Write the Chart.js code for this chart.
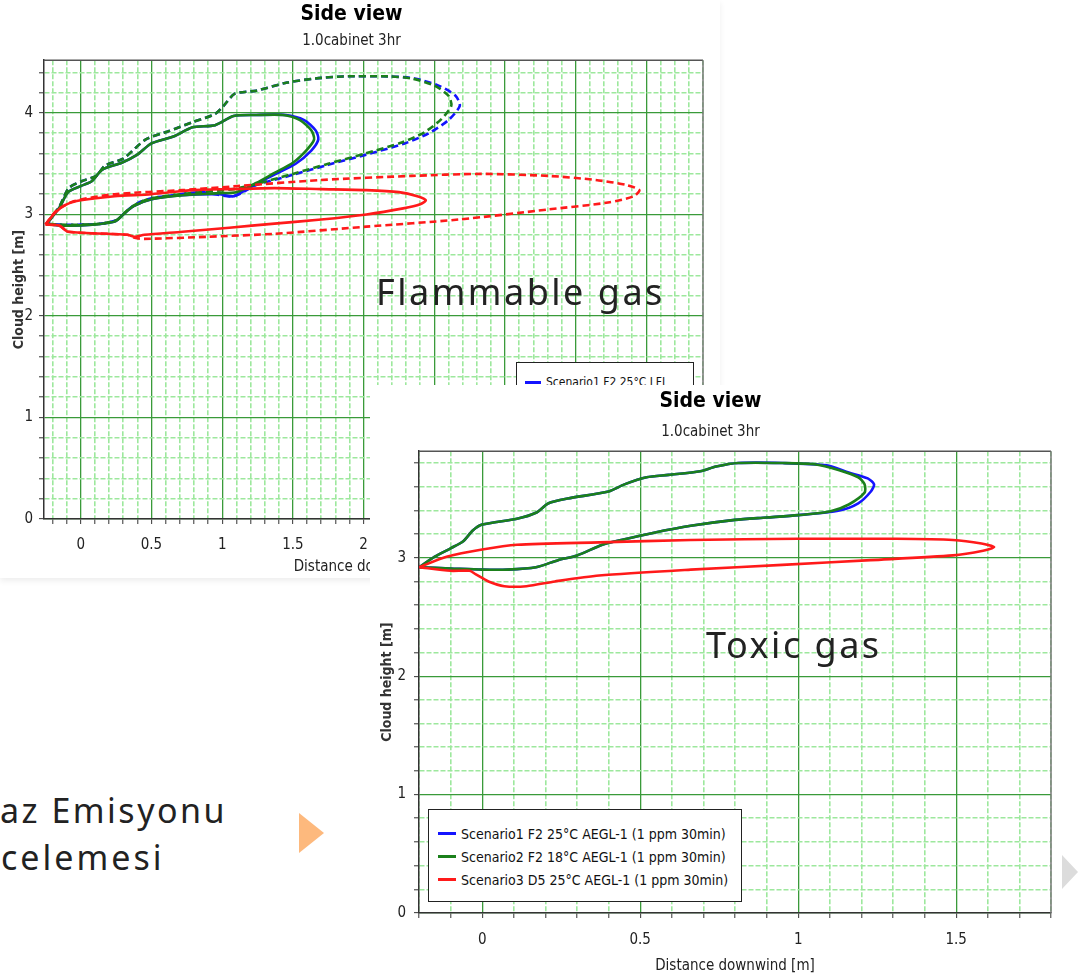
<!DOCTYPE html>
<html>
<head>
<meta charset="utf-8">
<script src="https://cdn.jsdelivr.net/npm/chart.js@4.4.1/dist/chart.umd.min.js"></script>
<style>
  body { margin: 0; width: 1084px; height: 980px; background: #fff; position: relative; overflow: hidden; }
  .card { position: absolute; background: #fff; }
  #card1 { left: 0; top: 0; width: 720px; height: 578px; box-shadow: 0 3px 6px rgba(0,0,0,0.07); }
  #card2 { left: 370px; top: 385px; width: 714px; height: 595px; }
  canvas { display: block; }
  .legend { position: absolute; box-sizing: border-box; background: #fff; border: 1px solid #222; color: #111;
            font-family: 'Liberation Sans Narrow', 'DejaVu Sans Condensed', sans-serif; overflow: hidden; }
  .legend .row { display: flex; align-items: center; white-space: nowrap; }
  .legend .sw { display: inline-block; flex-shrink: 0; height: 0; border-top: 3px solid; margin-right: 5px; }
  .big { position: absolute; color: #222; font-family: 'Noto Sans', sans-serif; font-weight: 400;
         letter-spacing: 2.5px; white-space: nowrap; line-height: 1; }
  .tri { position: absolute; width: 0; height: 0; border-style: solid; border-color: transparent; }
</style>
</head>
<body>

<div class="card" id="card1">
  <canvas id="flamChart" width="720" height="578"></canvas>
  <div class="legend" id="flamLegend" style="left:516px;top:362px;width:178px;height:150px;padding:9px 0 0 8px;font-size:12px;"></div>
</div>

<div class="big" style="left:376px;top:274px;font-size:36px;">Flammable gas</div>

<div class="big" style="left:0px;top:793px;font-size:34px;">az Emisyonu</div>
<div class="big" style="left:1px;top:840px;font-size:34px;letter-spacing:3px;">celemesi</div>
<div class="tri" style="left:299px;top:813px;border-width:20.5px 0 20.5px 25px;border-left-color:#fdb97d;"></div>

<div class="card" id="card2">
  <canvas id="toxChart" width="714" height="595"></canvas>
  <div class="legend" id="toxLegend" style="left:58px;top:424px;width:314px;height:93px;padding:12px 0 0 9px;font-size:14px;"></div>
</div>

<div class="big" style="left:706px;top:627px;font-size:36px;">Toxic gas</div>
<div class="tri" style="left:1062px;top:855px;border-width:17px 0 17px 16px;border-left-color:#dcdcdc;"></div>

<script>
// ---------------- flammable gas (LFL) contours ----------------
const flamS1X = [-0.24, -0.15, -0.09, 0.0, 0.08, 0.15, 0.29, 0.40, 0.50, 0.66, 0.79, 0.95, 1.08, 1.24, 1.45, 1.58, 1.66, 1.68, 1.63, 1.52, 1.38, 1.24, 1.08, 0.98, 0.72, 0.50, 0.37, 0.30, 0.24, 0.08, -0.09, -0.20, -0.24];
const flamS1Y = [2.91, 3.07, 3.22, 3.28, 3.33, 3.44, 3.51, 3.59, 3.70, 3.77, 3.86, 3.88, 3.97, 3.98, 3.98, 3.93, 3.83, 3.74, 3.63, 3.50, 3.40, 3.30, 3.18, 3.20, 3.19, 3.15, 3.08, 3.00, 2.93, 2.90, 2.89, 2.90, 2.91];
const flamS2X = [-0.24, -0.15, -0.09, 0.0, 0.08, 0.15, 0.29, 0.40, 0.50, 0.66, 0.79, 0.95, 1.08, 1.24, 1.43, 1.55, 1.63, 1.65, 1.60, 1.50, 1.37, 1.24, 1.10, 0.98, 0.72, 0.50, 0.37, 0.30, 0.24, 0.08, -0.09, -0.20, -0.24];
const flamS2Y = [2.91, 3.07, 3.22, 3.28, 3.33, 3.44, 3.51, 3.59, 3.70, 3.77, 3.86, 3.88, 3.97, 3.98, 3.98, 3.93, 3.83, 3.74, 3.64, 3.51, 3.41, 3.31, 3.22, 3.21, 3.19, 3.15, 3.08, 3.00, 2.93, 2.90, 2.89, 2.90, 2.91];
const flamS3X = [-0.25, -0.18, -0.10, 0.0, 0.24, 0.50, 0.79, 1.05, 1.37, 1.70, 2.02, 2.25, 2.38, 2.44, 2.40, 2.28, 2.02, 1.70, 1.37, 1.05, 0.72, 0.45, 0.38, 0.33, -0.09, -0.15, -0.25];
const flamS3Y = [2.90, 3.02, 3.10, 3.14, 3.18, 3.20, 3.24, 3.25, 3.26, 3.25, 3.24, 3.22, 3.18, 3.14, 3.10, 3.06, 3.00, 2.95, 2.91, 2.87, 2.83, 2.80, 2.78, 2.80, 2.83, 2.89, 2.90];

// dashed contours (LFL fraction)
const flamS1FracX = [-0.24, -0.15, -0.085, 0.01, 0.11, 0.17, 0.30, 0.46, 0.62, 0.79, 0.95, 1.01, 1.09, 1.24, 1.46, 1.66, 1.85, 2.18, 2.36, 2.53, 2.65, 2.68, 2.60, 2.46, 2.29, 2.02, 1.75, 1.50, 1.24, 1.08, 0.85, 0.65, 0.50, 0.40, 0.32, 0.26, 0.15, 0.0, -0.15, -0.24];
const flamS1FracY = [2.91, 3.08, 3.26, 3.33, 3.38, 3.48, 3.55, 3.74, 3.82, 3.91, 3.99, 4.07, 4.19, 4.22, 4.30, 4.34, 4.36, 4.36, 4.34, 4.27, 4.17, 4.07, 3.93, 3.80, 3.70, 3.59, 3.49, 3.39, 3.29, 3.18, 3.22, 3.19, 3.16, 3.11, 3.03, 2.95, 2.91, 2.90, 2.90, 2.91];
const flamS2FracX = [-0.24, -0.15, -0.085, 0.01, 0.11, 0.17, 0.30, 0.46, 0.62, 0.79, 0.95, 1.01, 1.09, 1.24, 1.46, 1.66, 1.85, 2.18, 2.34, 2.50, 2.60, 2.62, 2.55, 2.43, 2.27, 2.01, 1.75, 1.50, 1.24, 1.08, 0.85, 0.65, 0.50, 0.40, 0.32, 0.26, 0.15, 0.0, -0.15, -0.24];
const flamS2FracY = [2.91, 3.08, 3.26, 3.33, 3.38, 3.48, 3.55, 3.74, 3.82, 3.91, 3.99, 4.07, 4.19, 4.22, 4.30, 4.34, 4.36, 4.36, 4.34, 4.27, 4.17, 4.07, 3.94, 3.81, 3.71, 3.60, 3.50, 3.40, 3.30, 3.25, 3.22, 3.19, 3.16, 3.11, 3.03, 2.95, 2.91, 2.90, 2.90, 2.91];
const flamS3FracX = [-0.25, -0.17, -0.05, 0.24, 0.72, 1.11, 1.70, 2.34, 2.83, 3.31, 3.64, 3.86, 3.95, 3.91, 3.74, 3.31, 2.67, 2.02, 1.37, 0.89, 0.45, 0.38, 0.33, -0.09, -0.15, -0.25];
const flamS3FracY = [2.90, 3.04, 3.13, 3.20, 3.24, 3.28, 3.34, 3.38, 3.40, 3.38, 3.34, 3.29, 3.24, 3.18, 3.12, 3.05, 2.95, 2.88, 2.81, 2.78, 2.76, 2.77, 2.80, 2.83, 2.89, 2.90];

// ---------------- toxic gas (AEGL-1) contours ----------------
const toxS1X = [-0.20, -0.15, -0.10, -0.06, -0.03, 0.0, 0.11, 0.17, 0.21, 0.27, 0.40, 0.45, 0.52, 0.59, 0.69, 0.74, 0.81, 0.95, 1.09, 1.16, 1.22, 1.24, 1.23, 1.19, 1.13, 1.00, 0.90, 0.80, 0.66, 0.54, 0.44, 0.38, 0.30, 0.24, 0.17, 0.08, 0.0, -0.10, -0.20];
const toxS1Y = [2.92, 3.01, 3.08, 3.14, 3.23, 3.28, 3.33, 3.38, 3.46, 3.50, 3.56, 3.62, 3.68, 3.70, 3.73, 3.77, 3.80, 3.80, 3.78, 3.72, 3.67, 3.62, 3.56, 3.46, 3.40, 3.36, 3.34, 3.32, 3.27, 3.21, 3.15, 3.11, 3.02, 2.98, 2.92, 2.90, 2.90, 2.91, 2.92];
const toxS2X = [-0.20, -0.15, -0.10, -0.06, -0.03, 0.0, 0.11, 0.17, 0.21, 0.27, 0.40, 0.45, 0.52, 0.59, 0.69, 0.74, 0.81, 0.95, 1.05, 1.13, 1.19, 1.21, 1.21, 1.16, 1.10, 1.00, 0.90, 0.80, 0.66, 0.54, 0.44, 0.38, 0.30, 0.24, 0.17, 0.08, 0.0, -0.10, -0.20];
const toxS2Y = [2.92, 3.01, 3.08, 3.14, 3.23, 3.28, 3.33, 3.38, 3.46, 3.50, 3.56, 3.62, 3.68, 3.70, 3.73, 3.77, 3.80, 3.80, 3.79, 3.74, 3.68, 3.62, 3.55, 3.45, 3.39, 3.36, 3.34, 3.32, 3.27, 3.21, 3.15, 3.11, 3.02, 2.98, 2.92, 2.90, 2.90, 2.91, 2.92];
const toxS3X = [-0.20, -0.11, 0.0, 0.11, 0.37, 0.66, 1.00, 1.31, 1.49, 1.58, 1.62, 1.585, 1.49, 1.23, 0.95, 0.66, 0.37, 0.23, 0.14, 0.07, 0.02, -0.02, -0.04, -0.10, -0.20];
const toxS3Y = [2.92, 3.01, 3.07, 3.11, 3.13, 3.15, 3.16, 3.16, 3.15, 3.12, 3.09, 3.06, 3.02, 2.98, 2.94, 2.90, 2.85, 2.80, 2.76, 2.76, 2.80, 2.86, 2.89, 2.89, 2.92];

const flamLabels = ["Scenario1 F2 25°C LFL", "Scenario2 F2 18°C LFL", "Scenario3 D5 25°C LFL",
                    "Scenario1 F2 25°C LFL Frac", "Scenario2 F2 18°C LFL Frac", "Scenario3 D5 25°C LFL Frac"];
const toxLabels = ["Scenario1 F2 25°C AEGL-1 (1 ppm 30min)", "Scenario2 F2 18°C AEGL-1 (1 ppm 30min)", "Scenario3 D5 25°C AEGL-1 (1 ppm 30min)"];

const BLUE = "#1414ff";
const GREEN = "#1b801b";
const RED = "#ff1a1a";
const MAJOR = "#3a9a3a";
const MINOR = "#9de89d";
const NARROW = "'Liberation Sans Narrow', 'DejaVu Sans Condensed', 'Arial Narrow', sans-serif";

const toPoints = (xs, ys) => xs.map((x, i) => ({ x: x, y: ys[i] }));
const onStep = (v, step) => Math.abs(v / step - Math.round(v / step)) < 1e-6;

function contour(label, xs, ys, color, dashed, order) {
  return {
    label: label,
    data: toPoints(xs, ys),
    showLine: true,
    borderColor: color,
    backgroundColor: color,
    borderWidth: 2.6,
    borderDash: dashed ? [7, 4] : [],
    pointRadius: 0,
    tension: 0.25,
    fill: false,
    order: order,
  };
}

// draws the top and right edges of the plot frame
const framePlugin = {
  id: "frame",
  afterDraw(chart) {
    const { ctx, chartArea: a } = chart;
    ctx.save();
    ctx.lineWidth = 1.5;
    ctx.strokeStyle = "#555";
    ctx.beginPath();
    ctx.moveTo(a.left, a.top);
    ctx.lineTo(a.right, a.top);
    ctx.stroke();
    ctx.strokeStyle = "#777";
    ctx.beginPath();
    ctx.moveTo(a.right, a.top);
    ctx.lineTo(a.right, a.bottom);
    ctx.stroke();
    ctx.restore();
  },
};

function makeOptions(cfg) {
  return {
    responsive: false,
    animation: false,
    layout: { padding: { left: 0, right: cfg.padRight, top: 0, bottom: 0 } },
    plugins: {
      legend: { display: false },
      tooltip: { enabled: false },
      title: {
        display: true,
        text: "Side view",
        color: "#000",
        font: { family: NARROW, size: 21, weight: "bold" },
        padding: cfg.titlePad,
      },
      subtitle: {
        display: true,
        text: "1.0cabinet 3hr",
        color: "#222",
        font: { family: NARROW, size: 15 },
        padding: cfg.subPad,
      },
    },
    scales: {
      x: {
        type: "linear",
        min: cfg.xMin,
        max: cfg.xMax,
        afterFit: (s) => { s.height = cfg.xAxisHeight; },
        ticks: {
          stepSize: 0.1,
          autoSkip: false,
          includeBounds: false,
          maxRotation: 0,
          padding: cfg.xTickPad,
          color: "#222",
          font: { family: NARROW, size: 15 },
          callback: (v) => (onStep(v, 0.5) ? String(Math.round(v * 10) / 10) : ""),
        },
        grid: {
          color: (c) => (c.tick && onStep(c.tick.value, 0.5) ? MAJOR : MINOR),
          lineWidth: (c) => (c.tick && onStep(c.tick.value, 0.5) ? 1.3 : 1.6),
          tickColor: "#333",
          tickWidth: 1,
          tickLength: 5,
        },
        border: {
          color: "#333",
          width: 1.5,
          dash: (c) => (c.tick && !onStep(c.tick.value, 0.5) ? [5, 2] : []),
        },
        title: {
          display: true,
          text: "Distance downwind [m]",
          color: "#222",
          font: { family: NARROW, size: 15 },
          padding: { top: 0, bottom: cfg.xTitlePad },
        },
      },
      y: {
        type: "linear",
        min: 0,
        max: cfg.yMax,
        afterFit: (s) => { s.width = cfg.yAxisWidth; },
        ticks: {
          stepSize: 0.2,
          autoSkip: false,
          includeBounds: false,
          padding: cfg.yTickPad,
          color: "#222",
          font: { family: NARROW, size: 15 },
          callback: (v) => (onStep(v, 1) ? String(Math.round(v)) : ""),
        },
        grid: {
          color: (c) => (c.tick && onStep(c.tick.value, 1) ? MAJOR : MINOR),
          lineWidth: (c) => (c.tick && onStep(c.tick.value, 1) ? 1.3 : 1.6),
          tickColor: "#333",
          tickWidth: 1,
          tickLength: 5,
        },
        border: {
          color: "#333",
          width: 1.5,
          dash: (c) => (c.tick && !onStep(c.tick.value, 1) ? [5, 2] : []),
        },
        title: {
          display: true,
          text: "Cloud height [m]",
          color: "#333",
          font: { family: NARROW, size: 14, weight: "bold" },
          padding: { top: cfg.yTitlePad, bottom: 0 },
        },
      },
    },
  };
}

function buildLegend(el, chart, sw) {
  chart.data.datasets.forEach((ds) => {
    const row = document.createElement("div");
    row.className = "row";
    row.style.height = sw.row + "px";
    const mark = document.createElement("span");
    mark.className = "sw";
    mark.style.width = sw.width + "px";
    mark.style.borderTopColor = ds.borderColor;
    if (ds.borderDash.length) mark.style.borderTopStyle = "dashed";
    const txt = document.createElement("span");
    txt.textContent = ds.label;
    row.appendChild(mark);
    row.appendChild(txt);
    el.appendChild(row);
  });
}

/*------------------------------ FLAMMABLE ------------------------------*/
const flamChart = new Chart(document.getElementById("flamChart"), {
  type: "scatter",
  data: {
    datasets: [
      contour(flamLabels[0], flamS1X, flamS1Y, BLUE, false, 2),
      contour(flamLabels[1], flamS2X, flamS2Y, GREEN, false, 1),
      contour(flamLabels[2], flamS3X, flamS3Y, RED, false, 0),
      contour(flamLabels[3], flamS1FracX, flamS1FracY, BLUE, true, 2),
      contour(flamLabels[4], flamS2FracX, flamS2FracY, GREEN, true, 1),
      contour(flamLabels[5], flamS3FracX, flamS3FracY, RED, true, 0),
    ],
  },
  options: makeOptions({
    xMin: -0.26, xMax: 4.4, yMax: 4.52,
    padRight: 17, yAxisWidth: 44, xAxisHeight: 59,
    titlePad: { top: 2, bottom: 2 }, subPad: { top: 3, bottom: 10 },
    xTickPad: 12, yTickPad: 6, xTitlePad: 2, yTitlePad: 11,
  }),
  plugins: [framePlugin],
});
buildLegend(document.getElementById("flamLegend"), flamChart, { width: 16, row: 20 });

/*------------------------------ TOXIC ------------------------------*/
const toxChart = new Chart(document.getElementById("toxChart"), {
  type: "scatter",
  data: {
    datasets: [
      contour(toxLabels[0], toxS1X, toxS1Y, BLUE, false, 2),
      contour(toxLabels[1], toxS2X, toxS2Y, GREEN, false, 1),
      contour(toxLabels[2], toxS3X, toxS3Y, RED, false, 0),
    ],
  },
  options: makeOptions({
    xMin: -0.2, xMax: 1.8, yMax: 3.9,
    padRight: 33, yAxisWidth: 49, xAxisHeight: 67,
    titlePad: { top: 4, bottom: 4 }, subPad: { top: 5, bottom: 10 },
    xTickPad: 13, yTickPad: 8, xTitlePad: 5, yTitlePad: 9,
  }),
  plugins: [framePlugin],
});
buildLegend(document.getElementById("toxLegend"), toxChart, { width: 18, row: 23 });
</script>
</body>
</html>
